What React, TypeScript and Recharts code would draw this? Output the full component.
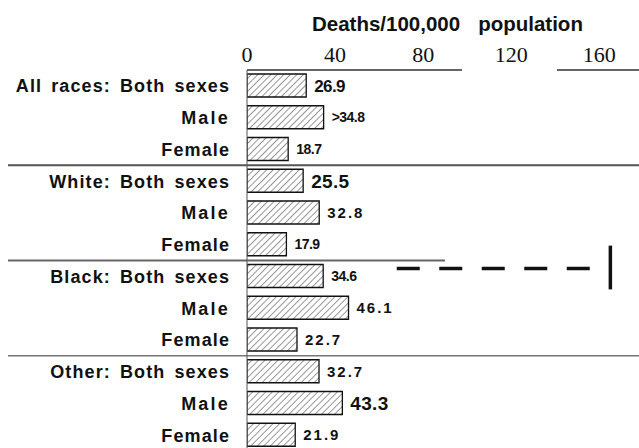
import { Bar, BarChart, LabelList, ReferenceLine, XAxis, YAxis } from 'recharts';

const rowLabels = [
    'All races: Both sexes',
    'Male',
    'Female',
    'White: Both sexes',
    'Male',
    'Female',
    'Black: Both sexes',
    'Male',
    'Female',
    'Other: Both sexes',
    'Male',
    'Female',
];

const deathRates = [26.9, 34.8, 18.7, 25.5, 32.8, 17.9, 34.6, 46.1, 22.7, 32.7, 43.3, 21.9];
const rateTexts = ['26.9', '>34.8', '18.7', '25.5', '32.8', '17.9', '34.6', '46.1', '22.7', '32.7', '43.3', '21.9'];
const xTicks = [0, 40, 80, 120, 160];
const groupEnds = ['2', '5', '8']; // last row of each race group

// look of the printed value labels, by row (the scan uses mixed type)
const rateLook = ['tight', 'narrow', 'narrow', 'big', 'spaced', 'narrow', 'narrow', 'spaced', 'spaced', 'spaced', 'big', 'spaced'];

const LOOKS: Record<string, React.CSSProperties> = {
    big: { fontSize: 19, fontWeight: 700, letterSpacing: 0.3 },
    tight: { fontSize: 17, fontWeight: 700, letterSpacing: -0.6 },
    spaced: { fontSize: 15, fontWeight: 700, letterSpacing: 2 },
    narrow: { fontSize: 14, fontWeight: 700, letterSpacing: -0.5 },
};

const SANS = "'Liberation Sans', Arial, Helvetica, sans-serif";
const PLOT_TOP = 70;
const PLOT_H = 381;
const BAND = PLOT_H / rowLabels.length;

const chartData = rowLabels.map((label, i) => ({
    row: String(i),
    label,
    rate: deathRates[i],
    rateText: rateTexts[i],
}));

function RowTick({ x, y, payload }: any) {
    const label = rowLabels[Number(payload.value)];
    const isMale = label === 'Male';
    return (
        <text
            x={x}
            y={y}
            dy="0.36em"
            textAnchor="end"
            fill="#111"
            fontFamily={SANS}
            fontSize={18}
            fontWeight={700}
            letterSpacing={isMale ? 2.2 : 1.1}
            wordSpacing={3}
        >
            {label}
        </text>
    );
}

function RateLabel({ x, y, width, height, index }: any) {
    const look = LOOKS[rateLook[index]];
    return (
        <text
            x={Number(x) + Number(width) + 8}
            y={Number(y) + Number(height) / 2}
            dy="0.36em"
            fill="#111"
            fontFamily={SANS}
            style={look}
        >
            {rateTexts[index]}
        </text>
    );
}

// rule drawn half a band below the given row, across the label column
const separator = (toX: number | null, stroke: string, width: number) => (props: any) => (
    <line
        x1={8}
        x2={toX ?? props.x2}
        y1={props.y1 + BAND / 2}
        y2={props.y2 + BAND / 2}
        stroke={stroke}
        strokeWidth={width}
    />
);

// stray marks of the scan, nudged off the band centres
const stray = (dy1: number, dy2: number, dash?: string) => (props: any) => (
    <line
        x1={props.x1}
        x2={props.x2}
        y1={props.y1 + dy1}
        y2={props.y2 + dy2}
        stroke="#111"
        strokeWidth={3.5}
        strokeDasharray={dash}
    />
);

const rulesLook = [
    { toX: 639, stroke: '#555', width: 2.2 },
    { toX: 445, stroke: '#666', width: 1.8 },
    { toX: 639, stroke: '#777', width: 1.3 },
];

export default function App() {
    return (
        <div
            style={{
                position: 'fixed',
                left: 0,
                top: 0,
                width: 639,
                height: 448,
                overflow: 'hidden',
                background: '#fff',
            }}
        >
            <div
                style={{
                    position: 'absolute',
                    left: 312,
                    top: 14,
                    fontFamily: SANS,
                    fontSize: 20.5,
                    lineHeight: '20px',
                    fontWeight: 700,
                    color: '#111',
                    whiteSpace: 'nowrap',
                }}
            >
                Deaths/100,000<span style={{ marginLeft: 18 }}>population</span>
            </div>
            <BarChart
                width={639}
                height={PLOT_TOP + PLOT_H + 5}
                data={chartData}
                layout="vertical"
                margin={{ top: 30, right: 0, left: 0, bottom: 5 }}
            >
                <defs>
                    <pattern id="hatch" patternUnits="userSpaceOnUse" width="4.6" height="4.6" patternTransform="rotate(45)">
                        <rect width="4.6" height="4.6" fill="#fff" />
                        <line x1="0" y1="0" x2="0" y2="4.6" stroke="#333" strokeWidth="1" />
                    </pattern>
                </defs>
                <XAxis
                    type="number"
                    orientation="top"
                    domain={[0, 178]}
                    ticks={xTicks}
                    height={40}
                    tickLine={false}
                    tickSize={0}
                    tickMargin={8}
                    axisLine={{ stroke: '#333', strokeWidth: 1.5, strokeDasharray: '215 95 200' }}
                    tick={{ fill: '#111', fontSize: 22, fontFamily: "'Liberation Serif', 'Times New Roman', serif" }}
                    allowDataOverflow
                />
                <YAxis
                    yAxisId="rows"
                    type="category"
                    dataKey="row"
                    width={247}
                    tickLine={false}
                    tickSize={0}
                    tickMargin={17}
                    axisLine={{ stroke: '#555', strokeWidth: 1 }}
                    tick={<RowTick />}
                    interval={0}
                />
                {groupEnds.map((row, i) => (
                    <ReferenceLine
                        key={row}
                        yAxisId="rows"
                        y={row}
                        ifOverflow="visible"
                        shape={separator(rulesLook[i].toX, rulesLook[i].stroke, rulesLook[i].width)}
                    />
                ))}
                <ReferenceLine
                    yAxisId="rows"
                    segment={[{ x: 68, y: '6' }, { x: 156, y: '6' }]}
                    ifOverflow="visible"
                    shape={stray(-8, -8, '23 19.5')}
                />
                <ReferenceLine
                    yAxisId="rows"
                    segment={[{ x: 165, y: '5' }, { x: 165, y: '6' }]}
                    ifOverflow="visible"
                    shape={stray(1, 13)}
                />
                <Bar
                    yAxisId="rows"
                    dataKey="rate"
                    fill="url(#hatch)"
                    stroke="#111"
                    strokeWidth={1.3}
                    barSize={23}
                    isAnimationActive={false}
                >
                    <LabelList dataKey="rateText" content={<RateLabel />} />
                </Bar>
            </BarChart>
        </div>
    );
}
